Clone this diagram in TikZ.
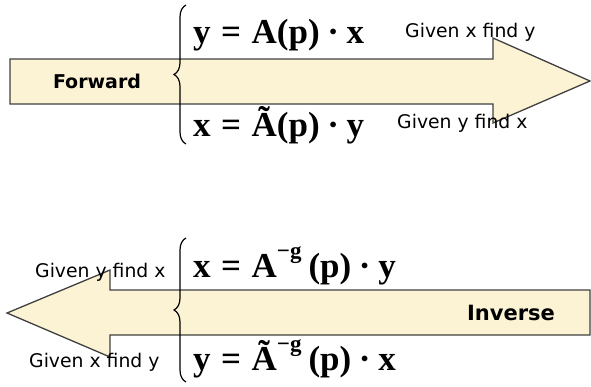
\documentclass[tikz,border=0pt]{standalone}
\usepackage{fontspec}
\setmainfont{DejaVu Sans}
\newfontfamily\eqfont{Liberation Serif}
\usepackage{tikz}
\usetikzlibrary{positioning,decorations.pathreplacing}
\definecolor{xcream}{HTML}{FCF2D4}
\definecolor{xedge}{HTML}{404040}
\newcommand{\eqsp}{\hspace{0.3em}}
\newcommand{\dotsp}{\hspace{0.22em}·\hspace{0.22em}}
\newcommand{\supg}{\raisebox{19pt}{\fontsize{23}{23}\selectfont −g}\hspace{0.2em}}

\begin{document}
\begin{tikzpicture}[
    x=1pt, y=-1pt,
    bigarrow/.style={fill=xcream, draw=xedge, line width=1.3pt, line join=miter},
    eq/.style={anchor=base west, inner sep=0pt, font=\fontsize{35}{38}\selectfont\eqfont\bfseries},
    hint/.style={anchor=base west, inner sep=0pt, font=\fontsize{18.8}{20}\selectfont},
    title/.style={inner sep=0pt, font=\fontsize{#1}{22}\selectfont\bfseries},
    curly/.style={decorate, decoration={brace, amplitude=12pt}, line width=1.2pt},
]
\useasboundingbox (0,0) rectangle (591,386);

% Arrows
\draw[bigarrow] (10,59) -- (493,59) -- (493,38) -- (590,81) -- (493,123) -- (493,104) -- (10,104) -- cycle;
\draw[bigarrow] (590,290) -- (110,290) -- (110,270) -- (7,313) -- (110,357) -- (110,335) -- (590,335) -- cycle;

% Titles
\node[title=19] (fwd) at (97,81) {Forward};
\node[title=21] (inv) at (511,313) {Inverse};

% Braces
\coordinate (b1top) at (186,5);
\coordinate (b1bot) at (186,144);
\coordinate (b2top) at (186,238);
\coordinate (b2bot) at (186,382);
\draw[curly] (b1bot) -- (b1top);
\draw[curly] (b2bot) -- (b2top);

% Equations
\node[eq] (e1) at (193,43) {y\eqsp=\eqsp A(p)\dotsp x};
\node[eq] (e2) at (193,136) {x\eqsp=\eqsp Ã(p)\dotsp y};
\node[eq] (e3) at (193,277) {x\eqsp=\eqsp A\supg(p)\dotsp y};
\node[eq] (e4) at (193,370) {y\eqsp=\eqsp Ã\supg(p)\dotsp x};

% Hints
\node[hint] (h1) at (405,37) {Given x find y};
\node[hint] (h2) at (397,128) {Given y find x};
\node[hint] (h3) at (35,277) {Given y find x};
\node[hint] (h4) at (29,367) {Given x find y};

\end{tikzpicture}
\end{document}
